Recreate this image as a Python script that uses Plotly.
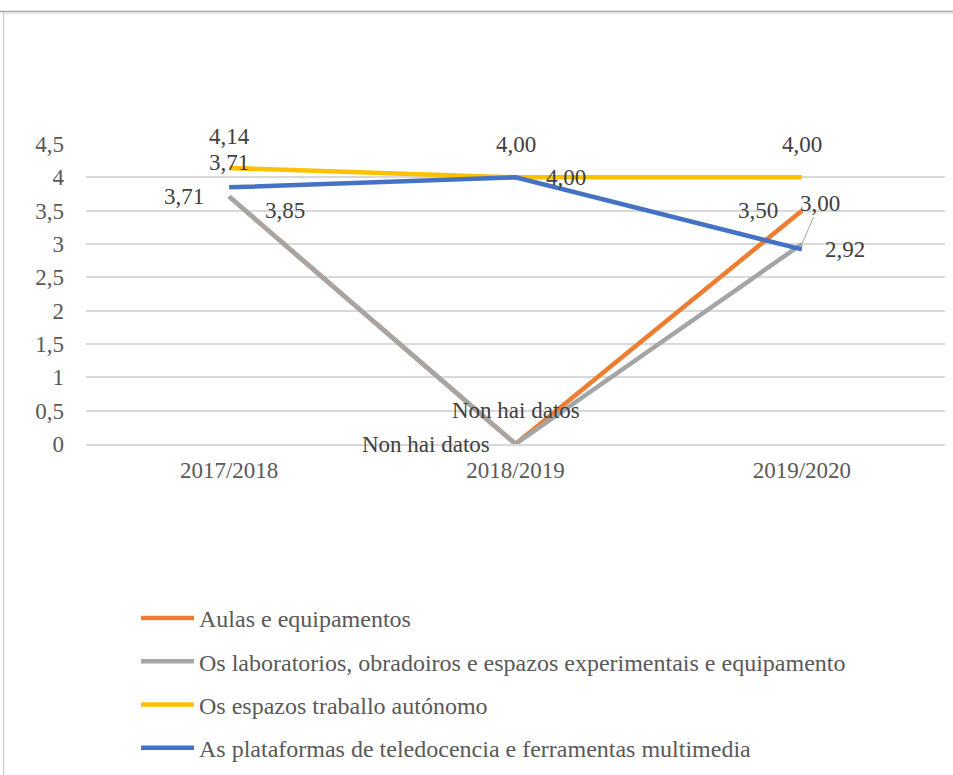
import plotly.graph_objects as go

# Academic years on the category axis
years = ["2017/2018", "2018/2019", "2019/2020"]

# Mean satisfaction per item (0 = no data for that year)
aulas = [3.71, 0.0, 3.50]
laboratorios = [3.71, 0.0, 3.00]
espazos = [4.14, 4.00, 4.00]
plataformas = [3.85, 4.00, 2.92]

series_names = [
    "Aulas e equipamentos",
    "Os laboratorios, obradoiros e espazos experimentais e equipamento",
    "Os espazos traballo autónomo",
    "As plataformas de teledocencia e ferramentas multimedia",
]
series_values = [aulas, laboratorios, espazos, plataformas]
series_colors = ["#ED7D31", "#A5A5A5", "#FFC000", "#4472C4"]

y_ticks = [0, 0.5, 1, 1.5, 2, 2.5, 3, 3.5, 4, 4.5]
y_tick_text = ["0", "0,5", "1", "1,5", "2", "2,5", "3", "3,5", "4", "4,5"]

NO_DATA = "Non hai datos"


def fmt(v):
    return NO_DATA if v == 0 else f"{v:.2f}".replace(".", ",")


# Label offsets in pixels (dx right, dy down) per series and year
label_offsets = [
    [(-45, 0), (-90, 0), (-44, 0)],
    [(0, -34), (0, -34), None],
    [(0, -32), (0, -33), (0, -33)],
    [(56, 23), (50, 0), (43, 0)],
]

FONT = "Liberation Serif, Times New Roman, serif"
LABEL_SIZE = 23
fig = go.Figure()

for i, (name, vals, col) in enumerate(zip(series_names, series_values, series_colors)):
    fig.add_trace(go.Scatter(
        x=years, y=vals, mode="lines", name=name,
        line=dict(color=col, width=4.5),
        legendgroup=f"g{i}",
    ))

annotations = []
for i, vals in enumerate(series_values):
    for j, v in enumerate(vals):
        off = label_offsets[i][j]
        if off is None:
            # label pulled away with a leader line
            annotations.append(dict(
                x=years[j], y=v, text=fmt(v), showarrow=True,
                ax=18, ay=-41, arrowhead=0, arrowwidth=1,
                arrowcolor="#A5A5A5", standoff=0,
                font=dict(family=FONT, size=LABEL_SIZE, color="#404040"),
            ))
        else:
            annotations.append(dict(
                x=years[j], y=v, text=fmt(v), showarrow=False,
                xshift=off[0], yshift=-off[1],
                font=dict(family=FONT, size=LABEL_SIZE, color="#404040"),
            ))

L, R, T, B = 86, 8, 144, 331
W, H = 953, 775
pw, ph = W - L - R, H - T - B


def px_x(p):
    return (p - L) / pw


def px_y(p):
    return (H - B - p) / ph


shapes = [
    dict(type="line", xref="paper", yref="paper",
         x0=px_x(0), x1=px_x(W), y0=px_y(11.5), y1=px_y(11.5),
         line=dict(color="#A6A6A6", width=1.5)),
    dict(type="line", xref="paper", yref="paper",
         x0=px_x(4), x1=px_x(W), y0=px_y(13.5), y1=px_y(13.5),
         line=dict(color="#E6E6E6", width=1.5)),
    dict(type="line", xref="paper", yref="paper",
         x0=px_x(3.5), x1=px_x(3.5), y0=px_y(12), y1=px_y(H),
         line=dict(color="#D0D0D0", width=1.5)),
]

fig.update_layout(
    width=W, height=H,
    margin=dict(l=L, r=R, t=T, b=B, pad=0, autoexpand=False),
    paper_bgcolor="white", plot_bgcolor="white",
    font=dict(family=FONT, size=LABEL_SIZE, color="#595959"),
    showlegend=True,
    legend=dict(
        x=px_x(136), y=px_y(596), xanchor="left", yanchor="top",
        traceorder="grouped", tracegroupgap=9, itemwidth=53,
        font=dict(family=FONT, size=24, color="#595959"),
        bgcolor="rgba(0,0,0,0)",
    ),
    xaxis=dict(
        type="category", range=[-0.5, 2.5],
        showgrid=False, showline=True, linecolor="#D9D9D9", linewidth=1.5,
        ticks="", tickfont=dict(family=FONT, size=LABEL_SIZE, color="#595959"),
        ticklabelstandoff=5,
        fixedrange=True,
    ),
    yaxis=dict(
        range=[0, 4.5], tickvals=y_ticks, ticktext=y_tick_text,
        showgrid=True, gridcolor="#D9D9D9", gridwidth=1.5,
        zeroline=False, showline=False, ticks="",
        ticklabelstandoff=21,
        tickfont=dict(family=FONT, size=LABEL_SIZE, color="#595959"),
        fixedrange=True,
    ),
    annotations=annotations,
    shapes=shapes,
)

fig.write_html("out.html")
